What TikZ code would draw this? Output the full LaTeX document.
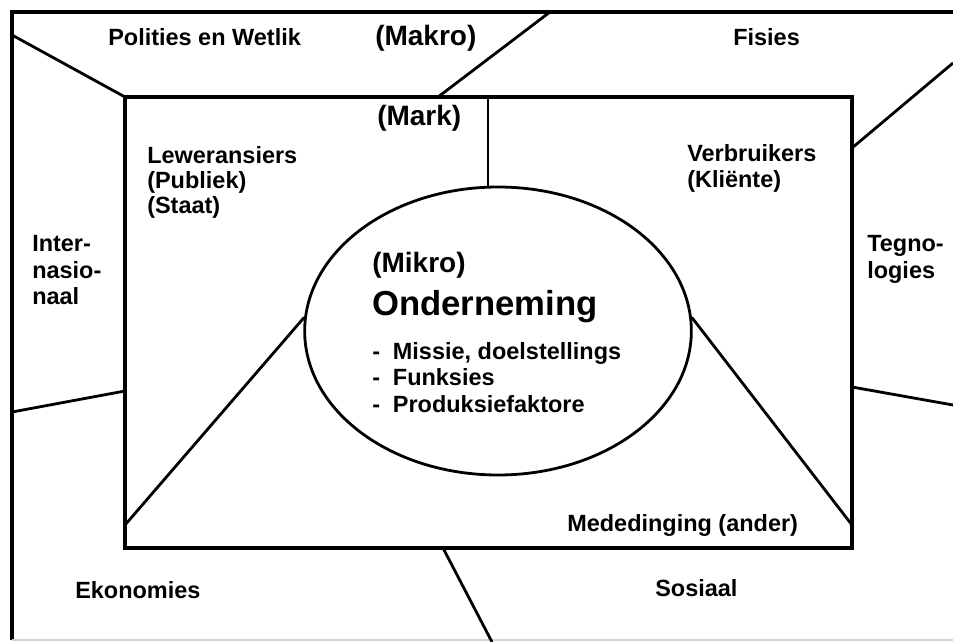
\documentclass[tikz,border=0pt]{standalone}
\usepackage{fontspec}
\setmainfont{Liberation Sans}
\usetikzlibrary{shapes.geometric}

\tikzset{
  teks/.style={inner sep=0pt, font=\bfseries\fontsize{17.6}{20}\selectfont, align=left},
  kop/.style={inner sep=0pt, font=\bfseries\fontsize{21}{24}\selectfont},
  raam/.style={line width=2.6pt},
  skeiding/.style={line width=2.1pt},
}

\begin{document}
\begin{tikzpicture}[x=0.75pt,y=0.75pt,yscale=-1,xscale=1]
			\useasboundingbox (0,0) rectangle (953,642);
			\clip (0,0) rectangle (953,642);

			%Outer frame (Makro)
			\draw [raam] (12,640) -- (12,12) -- (970,12) ;
			\draw [color=gray!35, line width=0.8pt] (12,640) -- (953,640) ;

			%Inner frame (Mark)
			\draw [raam] (125,97) coordinate (markLB) rectangle (852,548) coordinate (markRO) ;

			%Ellipse (Mikro)
			\node [draw, ellipse, line width=2.1pt, minimum width=290pt, minimum height=216pt] (onderneming) at (498,331) {} ;

			%Coordinates on the frames
			\coordinate (buiteLB) at (12,35) ;
			\coordinate (buiteLO) at (12,412) ;
			\coordinate (buiteBo) at (550,12) ;
			\coordinate (buiteRB) at (953,63) ;
			\coordinate (buiteRO) at (953,405) ;
			\coordinate (buiteOn) at (492,642) ;
			\coordinate (markBo) at (438,97) ;
			\coordinate (markMid) at (488,97) ;
			\coordinate (markL) at (125,391) ;
			\coordinate (markLO) at (125,525) ;
			\coordinate (markRB) at (852,148) ;
			\coordinate (markR) at (852,387) ;
			\coordinate (markRO2) at (852,525) ;
			\coordinate (markOn) at (443,548) ;

			%Straight Lines
			\draw [skeiding] (buiteLB) -- (markLB) ;
			\draw [skeiding] (markBo) -- (buiteBo) ;
			\draw [skeiding] (markRB) -- (buiteRB) ;
			\draw [skeiding] (buiteLO) -- (markL) ;
			\draw [skeiding] (markR) -- (buiteRO) ;
			\draw [skeiding] (markOn) -- (buiteOn) ;
			\draw [skeiding] (markMid) -- (markMid |- onderneming.north) ;
			\draw [skeiding] (onderneming.176) -- (markLO) ;
			\draw [skeiding] (onderneming.4) -- (markRO2) ;

			% Text Node
			\node [teks, anchor=west] (polities) at (108,37) {Polities en Wetlik};
			% Text Node
			\node [kop, anchor=west] (makro) at (375,38) {(Makro)};
			% Text Node
			\node [teks, anchor=west] (fisies) at (733,37) {Fisies};
			% Text Node
			\node [kop, anchor=west] (mark) at (377,118) {(Mark)};
			% Text Node
			\node [teks, anchor=north west, font=\bfseries\fontsize{17.6}{19}\selectfont] (leweransiers) at (147,146) {Leweransiers\\(Publiek)\\(Staat)};
			% Text Node
			\node [teks, anchor=north west] (verbruikers) at (687,144) {Verbruikers\\(Kliënte)};
			% Text Node
			\node [teks, anchor=north west] (internasionaal) at (32,235) {Inter-\\nasio-\\naal};
			% Text Node
			\node [teks, anchor=north west] (tegnologies) at (867,235) {Tegno-\\logies};
			% Text Node
			\node [kop, anchor=west] (mikro) at (372,265) {(Mikro)};
			% Text Node
			\node [teks, anchor=west, font=\bfseries\fontsize{26}{30}\selectfont] (ondernemingtitel) at (372,307) {Onderneming};
			% Text Node
			\node [teks, anchor=north west] (lys) at (372,342) {\makebox[15.5pt][l]{-}Missie, doelstellings\\\makebox[15.5pt][l]{-}Funksies\\\makebox[15.5pt][l]{-}Produksiefaktore};
			% Text Node
			\node [teks, anchor=west] (mededinging) at (567,525) {Mededinging (ander)};
			% Text Node
			\node [teks, anchor=west] (ekonomies) at (75,590) {Ekonomies};
			% Text Node
			\node [teks, anchor=west] (sosiaal) at (655,588) {Sosiaal};
		\end{tikzpicture}
\end{document}
